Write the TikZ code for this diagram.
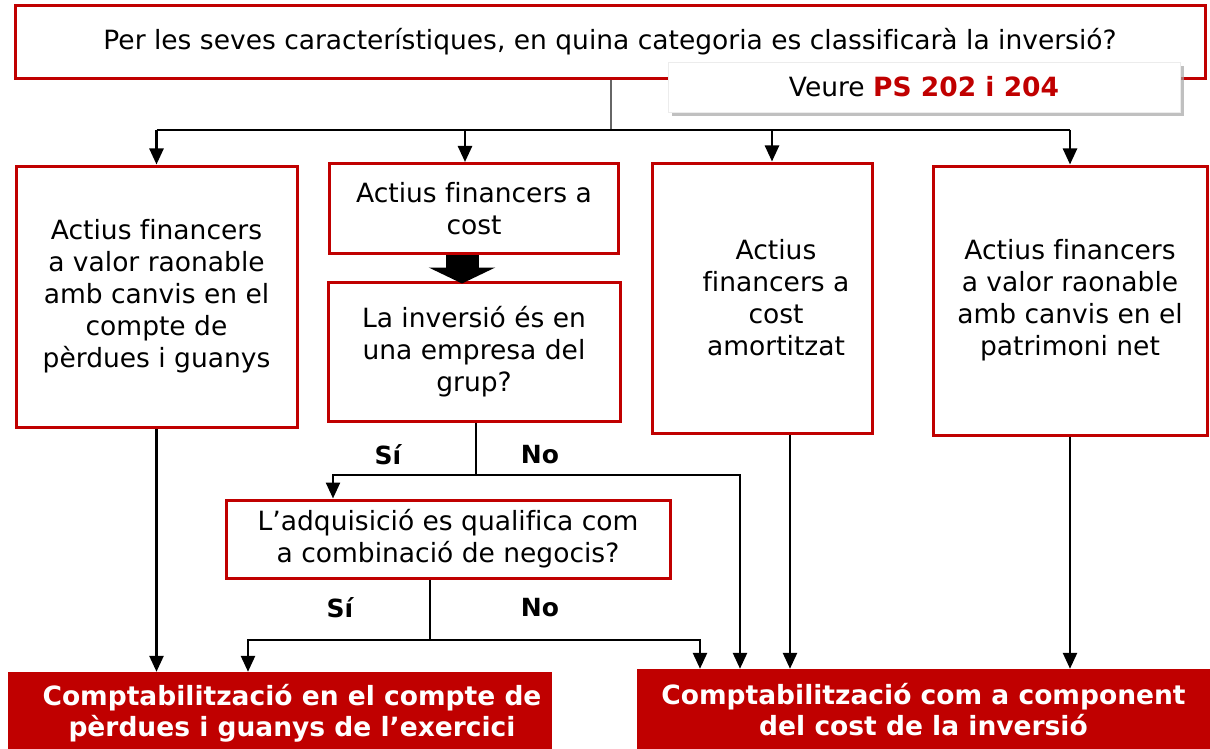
\documentclass[tikz,border=0pt]{standalone}
\usepackage{fontspec}
\setmainfont[Ligatures=NoCommon]{DejaVu Sans}
\usetikzlibrary{arrows.meta,shadows,calc}
\definecolor{dred}{HTML}{C00000}
\begin{document}
\begin{tikzpicture}[x=1pt,y=-1pt,
  txt/.style={font=\fontsize{26.5}{32}\selectfont,align=center,inner sep=0pt},
  box/.style={draw=dred,line width=3pt,fill=white,inner sep=0pt,txt},
  restxt/.style={inner sep=0pt,text=white,align=center,
    font=\fontsize{26.5}{31}\selectfont\bfseries},
  resbox/.style={fill=dred,draw=none,restxt},
  lbl/.style={font=\fontsize{25}{28}\selectfont\bfseries,inner sep=0pt},
  conn/.style={draw=black,line width=2.5pt},
  thin/.style={draw=black,line width=1.2pt},
  arr/.style={conn,-{Triangle[length=16pt,width=14pt]}},
]
\useasboundingbox (0,0) rectangle (1210,749);
\fill[white] (0,0) rectangle (1210,749);

% boxes
\node[box,minimum width=1190,minimum height=73] (top) at (610,42)
  {Per les seves característiques, en quina categoria es classificarà la inversió?};
\node[draw=gray!15,line width=0.5pt,fill=white,minimum width=512,minimum height=50,
  drop shadow={shadow xshift=4pt,shadow yshift=-4pt,fill=gray!70,opacity=0.7},txt] (veure) at (924,87)
  {Veure \textcolor{dred}{\bfseries PS 202 i 204}};
\node[box,minimum width=281,minimum height=261] (a) at (156.5,296.5)
  {Actius financers\\a valor raonable\\amb canvis en el\\compte de\\pèrdues i guanys};
\node[box,minimum width=289,minimum height=90] (b) at (474,208.5)
  {Actius financers a\\cost};
\node[box,minimum width=292,minimum height=139] (c) at (474,351.5)
  {La inversió és en\\una empresa del\\grup?};
\node[box,minimum width=220,minimum height=270,
  label={[txt,xshift=14pt]center:Actius\\financers a\\cost\\amortitzat}] (d) at (762,298) {};
\node[box,minimum width=274,minimum height=269] (e) at (1070,300.5)
  {Actius financers\\a valor raonable\\amb canvis en el\\patrimoni net};
\node[box,minimum width=444,minimum height=78] (f) at (448,539)
  {L’adquisició es qualifica com\\a combinació de negocis?};
\node[resbox,minimum width=544,minimum height=78,
  label={[restxt,xshift=12pt,yshift=-2pt]center:Comptabilització en el compte de\\pèrdues i guanys de l’exercici}] (g) at (280,711) {};
\node[resbox,minimum width=573,minimum height=82] (h) at (923.5,710)
  {Comptabilització com a component\\del cost de la inversió};

% labels
\node[lbl] (si1) at (388,455) {Sí};
\node[lbl] (no1) at (540,455) {No};
\node[lbl] (si2) at (340,608) {Sí};
\node[lbl] (no2) at (540,608) {No};

% coordinates
\coordinate (split) at ($(top.south)+(1,0)$);
\coordinate (bus) at (611,130);
\coordinate (bin) at ($(b.north)+(-9,0)$);
\coordinate (din) at ($(d.north)+(10,0)$);
\coordinate (dout) at ($(d.south)+(28,0)$);
\coordinate (cout) at ($(c.south)+(2,0)$);
\coordinate (cj) at (476,475);
\coordinate (fin) at ($(f.north)+(-115,0)$);
\coordinate (fout) at ($(f.south)+(-18,0)$);
\coordinate (fj) at (430,640);
\coordinate (ta) at ($(b.south)+(-12,0)$);
\coordinate (tb) at ($(c.north)+(-12,3)$);

% top distribution
\draw[draw=gray!80!black,line width=1.2pt] (split) -- (bus);
\draw[conn] (a.north |- bus) -- (e.north |- bus);
\draw[arr] (a.north |- bus) -- (a.north);
\draw[arr] (bin |- bus) -- (bin);
\draw[arr] (din |- bus) -- (din);
\draw[arr] (e.north |- bus) -- (e.north);

% thick arrow b -> c
\draw[line width=33pt,-{Triangle[length=16pt,width=66pt]}] (ta) -- (tb);

% from c
\draw[thin] (cout) -- (cj);
\draw[arr] (cj) -- (fin |- cj) -- (fin);
\draw[arr] (cj) -- (740,475) -- (740,0 |- h.north);

% from f
\draw[thin] (fout) -- (fj);
\draw[arr] (fj) -- (248,640) -- (248,0 |- g.north);
\draw[arr] (fj) -- (700,640) -- (700,0 |- h.north);

% straight down
\draw[arr] (a.south) -- (a.south |- g.north);
\draw[arr] (dout) -- (dout |- h.north);
\draw[arr] (e.south) -- (e.south |- h.north);
\end{tikzpicture}
\end{document}
